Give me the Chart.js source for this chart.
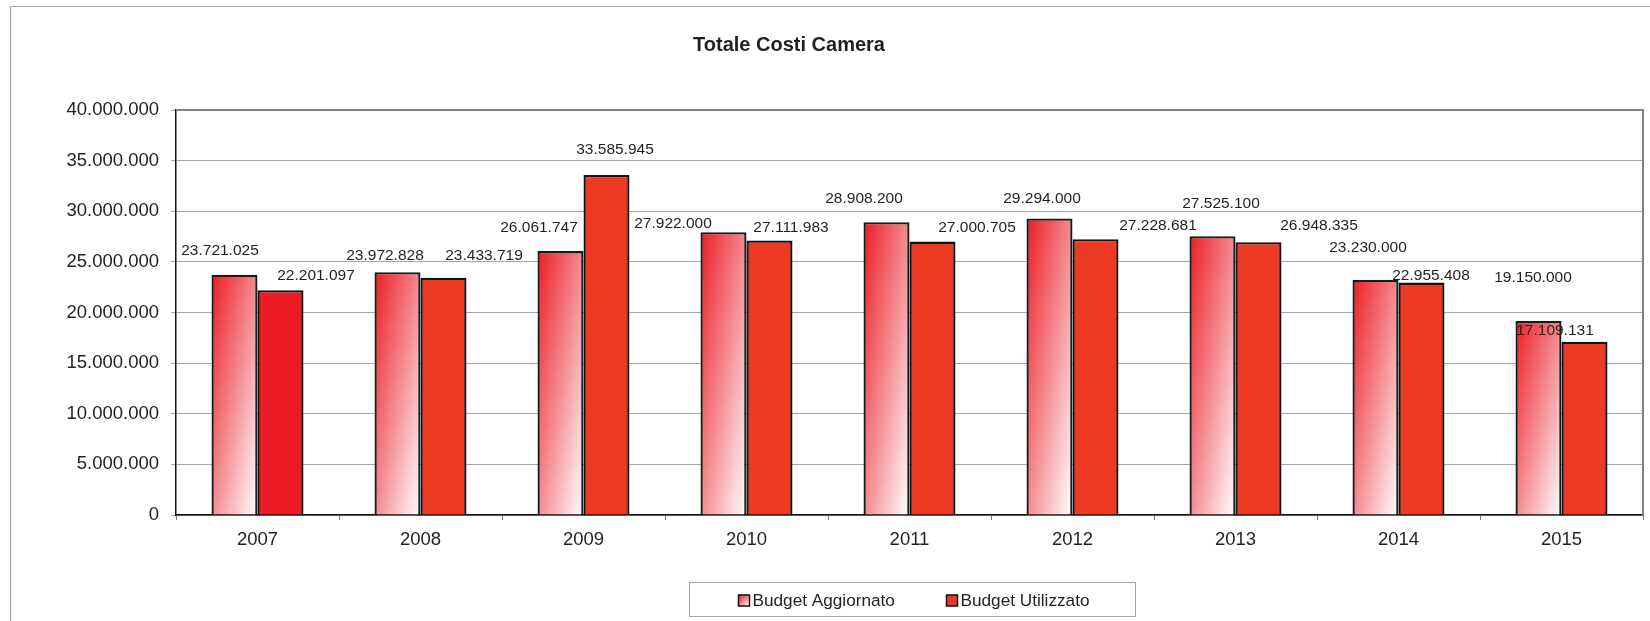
<!DOCTYPE html>
<html>
<head>
<meta charset="utf-8">
<script src="https://cdn.jsdelivr.net/npm/chart.js@4.4.1/dist/chart.umd.min.js"></script>
<style>
html,body{margin:0;padding:0;background:#fff;overflow:hidden}
#wrap{position:absolute;left:0;top:0;width:1650px;height:621px}
</style>
</head>
<body>
<div id="wrap"><canvas id="c" width="1650" height="621"></canvas></div>
<script>
// ---- data ----
const chartTitle = 'Totale Costi Camera';
const categories = ['2007', '2008', '2009', '2010', '2011', '2012', '2013', '2014', '2015'];
const seriesNames = ['Budget Aggiornato', 'Budget Utilizzato'];
const budgetAggiornato = [23721025, 23972828, 26061747, 27922000, 28908200, 29294000, 27525100, 23230000, 19150000];
const budgetUtilizzato = [22201097, 23433719, 33585945, 27111983, 27000705, 27228681, 26948335, 22955408, 17109131];
const yTickValues = [0, 5000000, 10000000, 15000000, 20000000, 25000000, 30000000, 35000000, 40000000];

// ---- layout / style (not data) ----
const FONT = "'Liberation Sans', Arial, sans-serif";
const TEXT = '#231f20';
const CAT_PCT = 0.5644;
const utilColors = ['#ED1C24', '#EE3A23', '#EE3A23', '#EE3A23', '#EE3A23', '#EE3A23', '#EE3A23', '#EE3A23', '#EE3A23'];
// data-label nudges relative to bar centre / bar top (pixels)
const labelDX = [[-14.5, -12.5, -21.5, -50.5, -22.5, -7.5, 8.5, -7.5, -5.5],
                 [35.5, 40.5, 8.5, 21.5, 44.5, 62.5, 60.5, 9.5, -29.5]];
const labelDY = [[-24, -17, -23.5, -8.6, -23.6, -19.7, -32.6, -32, -43.6],
                 [-14, -22, -25, -13, -14, -13.6, -16.5, -7, -11]];

function fmt(v) {
  return String(Math.round(v)).replace(/\B(?=(\d{3})+(?!\d))/g, '.');
}

function barGradient(g, x0, y0, w, h) {
  if (!(w > 0) || !(h > 0)) return '#ED1C24';
  const k = 2 / (1 / (w * w) + 1 / (h * h));
  const grad = g.createLinearGradient(x0, y0, x0 + k / w, y0 + k / h);
  grad.addColorStop(0, '#ED1C24');
  grad.addColorStop(0.5, '#F48A8F');
  grad.addColorStop(1, '#FFFFFF');
  return grad;
}

const framePlugin = {
  id: 'frame',
  beforeDraw(chart) {
    const g = chart.ctx;
    g.save();
    g.fillStyle = '#fff';
    g.fillRect(0, 0, chart.width, chart.height);
    g.strokeStyle = '#a6a6a6';
    g.lineWidth = 1.2;
    g.beginPath();
    g.moveTo(10.5, chart.height + 2);
    g.lineTo(10.5, 6.5);
    g.lineTo(chart.width + 2, 6.5);
    g.stroke();
    // title
    g.fillStyle = TEXT;
    g.font = 'bold 20px ' + FONT;
    g.textAlign = 'center';
    g.textBaseline = 'middle';
    g.fillText(chartTitle, 789, 45);
    g.restore();
  },
  afterDatasetsDraw(chart) {
    const g = chart.ctx, a = chart.chartArea;
    g.save();
    // plot border top/right
    g.strokeStyle = '#808080';
    g.lineWidth = 2;
    g.beginPath();
    g.moveTo(a.left, a.top);
    g.lineTo(a.right, a.top);
    g.lineTo(a.right, a.bottom);
    g.stroke();
    // data labels
    const ys = chart.scales.y;
    g.fillStyle = TEXT;
    g.font = '15.5px ' + FONT;
    g.textAlign = 'center';
    g.textBaseline = 'middle';
    chart.data.datasets.forEach((ds, di) => {
      const meta = chart.getDatasetMeta(di);
      meta.data.forEach((el, i) => {
        const v = ds.data[i];
        const top = ys.getPixelForValue(v);
        g.fillText(fmt(v), el.x + labelDX[di][i], top + labelDY[di][i]);
      });
    });
    g.restore();
  },
  afterDraw(chart) {
    const g = chart.ctx;
    g.save();
    // legend box
    g.strokeStyle = '#a6a6a6';
    g.lineWidth = 1;
    g.strokeRect(689.5, 582.5, 446, 34);
    const items = [
      { x: 738.5, tx: 752.5, fill: barGradient(g, 738.5, 595, 11, 11) },
      { x: 946.5, tx: 960.5, fill: '#EE3A23' }
    ];
    g.font = '17.2px ' + FONT;
    g.textAlign = 'left';
    g.textBaseline = 'alphabetic';
    items.forEach((it, i) => {
      g.fillStyle = it.fill;
      g.fillRect(it.x, 595, 11, 11);
      g.strokeStyle = '#111';
      g.lineWidth = 1.5;
      g.strokeRect(it.x, 595, 11, 11);
      g.fillStyle = TEXT;
      g.fillText(chart.data.datasets[i].label, it.tx, 605.5);
    });
    g.restore();
  }
};

new Chart(document.getElementById('c'), {
  type: 'bar',
  data: {
    labels: categories,
    datasets: [
      {
        label: seriesNames[0],
        data: budgetAggiornato,
        backgroundColor: (c) => {
          if (c.type !== 'data') return '#ED1C24';
          const ch = c.chart, xs = ch.scales.x, ys = ch.scales.y;
          if (!xs || !ys || !ch.chartArea) return '#ED1C24';
          const size = xs.width / categories.length * CAT_PCT / 2;
          const cx = xs.getPixelForValue(c.dataIndex) - size / 2;
          const top = ys.getPixelForValue(c.raw), base = ys.getPixelForValue(0);
          return barGradient(ch.ctx, cx - size / 2, top, size, base - top);
        },
        borderColor: '#1a1a1a',
        borderWidth: 2.3,
        categoryPercentage: CAT_PCT,
        barPercentage: 1
      },
      {
        label: seriesNames[1],
        data: budgetUtilizzato,
        backgroundColor: utilColors,
        borderColor: '#111',
        borderWidth: 2.3,
        categoryPercentage: CAT_PCT,
        barPercentage: 1
      }
    ]
  },
  options: {
    responsive: false,
    animation: false,
    devicePixelRatio: 1,
    layout: { padding: { top: 110, right: 7, bottom: 0, left: 0 } },
    plugins: {
      legend: { display: false },
      title: { display: false },
      tooltip: { enabled: false }
    },
    scales: {
      x: {
        offset: true,
        grid: { display: true, drawOnChartArea: false, drawTicks: true, tickLength: 5, color: '#808080', offset: true },
        border: { display: true, color: '#111', width: 1.5 },
        ticks: { font: { family: FONT, size: 18.5 }, color: TEXT, padding: 9, maxRotation: 0, autoSkip: false },
        afterFit: (s) => { s.height = 106; }
      },
      y: {
        min: 0,
        max: 40000000,
        afterBuildTicks: (s) => { s.ticks = yTickValues.map(v => ({ value: v })); },
        ticks: { font: { family: FONT, size: 18.5 }, color: TEXT, padding: 12, callback: (v) => fmt(v) },
        grid: { color: '#a6a6a6', lineWidth: 1, tickLength: 5, drawTicks: true },
        border: { display: true, color: '#111', width: 1.5 },
        afterFit: (s) => { s.width = 176; }
      }
    }
  },
  plugins: [framePlugin]
});
</script>
</body>
</html>
